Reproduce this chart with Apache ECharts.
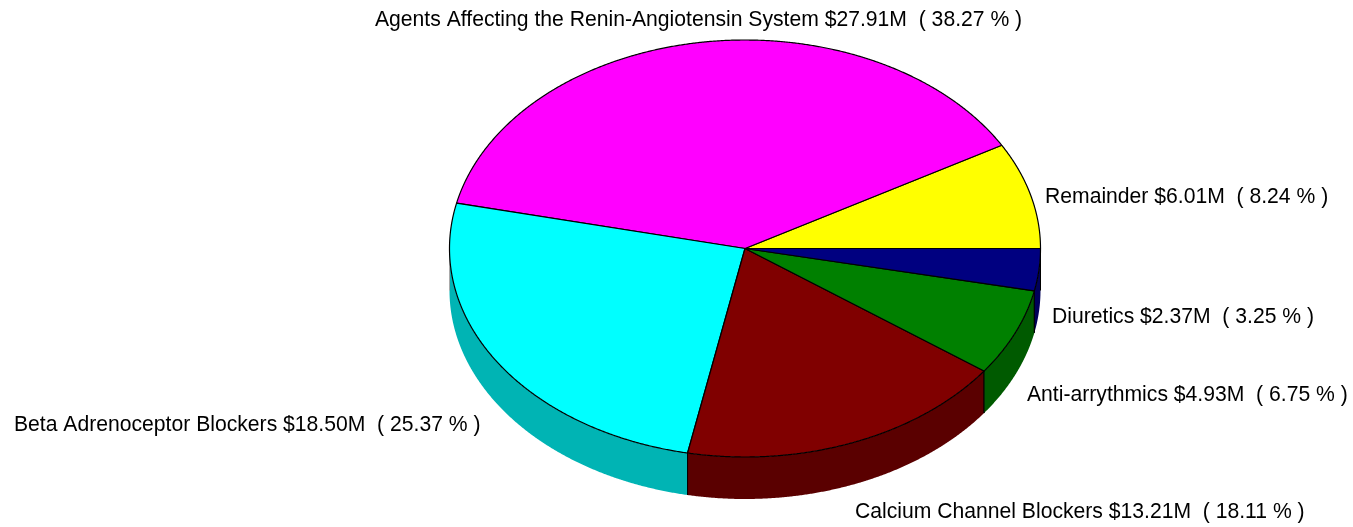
<!DOCTYPE html>
<html><head><meta charset="utf-8">
<style>html,body{margin:0;padding:0;background:#fff}#c{width:1353px;height:527px}</style>
<script src="https://cdn.jsdelivr.net/npm/echarts@6/dist/echarts.min.js"></script>
</head><body><div id="c"></div>
<script>
// Data, counter-clockwise from 3 o'clock
var names = ['Remainder','Agents Affecting the Renin-Angiotensin System','Beta Adrenoceptor Blockers','Calcium Channel Blockers','Anti-arrythmics','Diuretics'];
var amounts = ['$6.01M','$27.91M','$18.50M','$13.21M','$4.93M','$2.37M'];
var percents = [8.24,38.27,25.37,18.11,6.75,3.25];
var topColors = ['#ffff00','#ff00ff','#00ffff','#800000','#008000','#000080'];
var sideColors = ['#b4b400','#b400b4','#00b4b4','#5a0000','#005a00','#00005a'];

// Layout (kept apart from the data)
var CX = 745, CY = 248.5, RX = 295.5, RY = 208.5, DEPTH = 42;
var labelX = [1045,375,14,855,1027,1052];
var labelY = [197,20,425,512,395,317];

var total = percents.reduce(function(a,b){return a+b;},0);
var starts = [], ends = [], acc = 0;
percents.forEach(function(p){ starts.push(acc/total*360); acc += p; ends.push(acc/total*360); });
function pt(deg, dy){ var t = deg*Math.PI/180; return [CX+RX*Math.cos(t), CY-RY*Math.sin(t)+(dy||0)]; }
function arc(a,b,dy){ var out=[], n=Math.max(2,Math.ceil(Math.abs(b-a)/0.25)); for(var i=0;i<=n;i++) out.push(pt(a+(b-a)*i/n,dy)); return out; }

var chart = echarts.init(document.getElementById('c'),null,{renderer:'canvas'});
var seriesData = percents.map(function(p,i){return {name:names[i],value:p};});
chart.setOption({
  animation:false,
  backgroundColor:'#fff',
  series:[
    {type:'custom',coordinateSystem:'none',z:1,silent:true,data:seriesData,
     renderItem:function(params){
       var i=params.dataIndex, a=Math.max(starts[i],180), b=ends[i];
       if(b<=180) return {type:'group',children:[]};
       var pts=arc(a,b,0).concat(arc(b,a,DEPTH));
       var kids=[{type:'polygon',shape:{points:pts},style:{fill:sideColors[i],stroke:null}}];
       [a,b].forEach(function(d){
         var p=pt(d,0);
         kids.push({type:'line',shape:{x1:p[0],y1:p[1],x2:p[0],y2:p[1]+DEPTH},style:{stroke:d===180?'#aaa':'#000',lineWidth:1}});
       });
       return {type:'group',children:kids};
     }},
    {type:'custom',coordinateSystem:'none',z:2,silent:true,data:seriesData,
     renderItem:function(params){
       var i=params.dataIndex;
       return {type:'polygon',shape:{points:[[CX,CY]].concat(arc(starts[i],ends[i],0))},
         style:{fill:topColors[i],stroke:'#000',lineWidth:1.2,lineJoin:'round'}};
     }},
    {type:'custom',coordinateSystem:'none',z:3,silent:true,data:seriesData,
     renderItem:function(params){
       var i=params.dataIndex;
       return {type:'text',x:labelX[i],y:labelY[i],
         style:{text:names[i]+' '+amounts[i]+'  ( '+percents[i].toFixed(2)+' % )',
           fill:'#000',font:'21.15px "Liberation Sans", Arial, sans-serif',align:'left',verticalAlign:'middle'}};
     }}
  ]
});
</script></body></html>
